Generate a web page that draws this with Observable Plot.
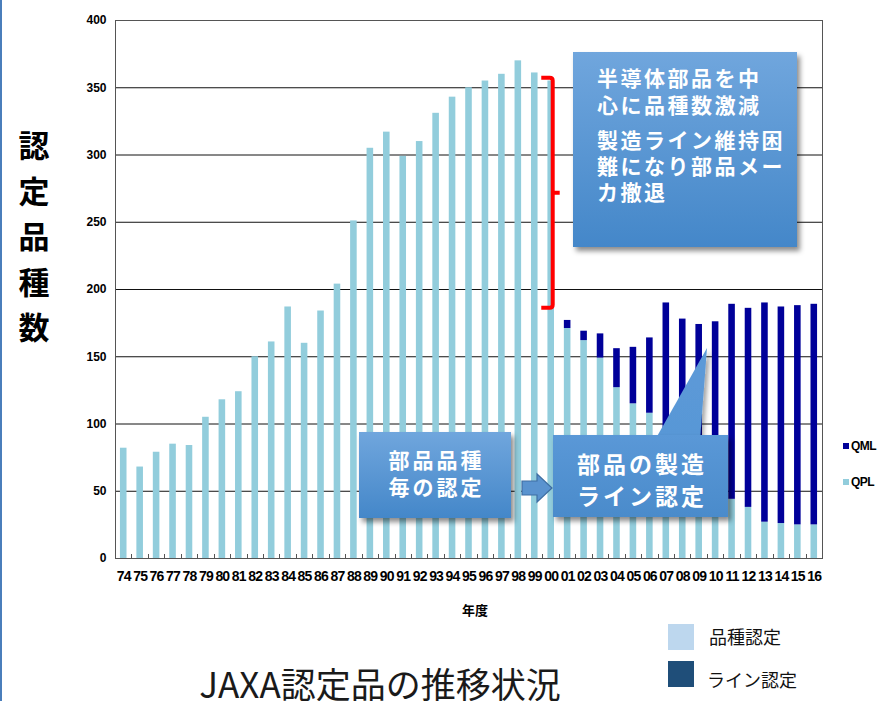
<!DOCTYPE html>
<html>
<head>
<meta charset="utf-8">
<script src="https://cdn.jsdelivr.net/npm/d3@7"></script>
<script src="https://cdn.jsdelivr.net/npm/@observablehq/plot@0.6"></script>
<style>
  html, body { margin: 0; padding: 0; background: #fff; }
  #wrap { position: relative; width: 879px; height: 701px; overflow: hidden; background: #fff; }
  #edge { position: absolute; left: 0; top: 0; width: 2px; height: 701px; background: #4a7ebb; }
  #chart { position: absolute; left: 0; top: 0; }
  #chart svg text { font-family: "Liberation Sans", Arial, sans-serif; font-weight: bold; fill: #000; }
  .ytitle { position: absolute; left: 16px; top: 121px; width: 36px; font-family: "Noto Sans CJK JP", sans-serif;
    font-weight: bold; font-size: 31px; line-height: 45.5px; text-align: center; color: #000; }
  .xtitle { position: absolute; left: 462px; top: 600px; font-family: "Noto Sans CJK JP", sans-serif; font-weight: bold; font-size: 13px; color: #000; }
  .leg { position: absolute; font-family: "Liberation Sans", Arial, sans-serif; font-weight: bold; font-size: 12px; letter-spacing: -0.6px; color: #000; }
  .leg span.sw { display: inline-block; width: 6px; height: 6px; margin-right: 2px; vertical-align: 1px; }
  .box { position: absolute; background: linear-gradient(#70a6dd, #4487c9); box-shadow: 3px 4px 5px rgba(0,0,0,0.45);
    color: #fff; font-family: "Noto Sans CJK JP", sans-serif; font-weight: bold; }
  .title { position: absolute; left: 0; width: 760px; top: 661px; text-align: center; font-family: "Noto Sans CJK JP", sans-serif; font-size: 35px; line-height: 44px; color: #1a1a1a; }
  .bl { position: absolute; font-family: "Noto Sans CJK JP", sans-serif; font-size: 18px; color: #111; }
  .bsw { position: absolute; width: 26px; height: 26px; }
</style>
</head>
<body>
<div id="wrap">
  <div id="edge"></div>
  <div id="chart"></div>
</div>
<script>
// ---- data ----
const years = ["74","75","76","77","78","79","80","81","82","83","84","85","86","87","88","89","90","91","92","93","94","95","96","97","98","99",
               "00","01","02","03","04","05","06","07","08","09","10","11","12","13","14","15","16"];
const qpl = [82,68,79,85,84,105,118,124,150,161,187,160,184,204,251,305,317,299,310,331,343,350,355,360,370,361,
             355,171,162,149,127,115,108,95,82,70,57,44,38,27,26,25,25];
const qml = [0,0,0,0,0,0,0,0,0,0,0,0,0,0,0,0,0,0,0,0,0,0,0,0,0,0,
             0,6,7,18,29,42,56,95,96,104,119,145,148,163,161,163,164];
const seriesNames = ["QPL","QML"];
const seriesColors = ["#92cddc","#000099"];
const yTicks = [0,50,100,150,200,250,300,350,400];
const bracketRange = [357, 186]; // span of the decline annotation (values)

const rows = [];
years.forEach((y,i) => rows.push({year: y, series: "QPL", value: qpl[i]}));
years.forEach((y,i) => rows.push({year: y, series: "QML", value: qml[i]}));

const W = 879, H = 630, mL = 115, mR = 57, mT = 20, mB = 72;

const chart = Plot.plot({
  width: W, height: H,
  marginLeft: mL, marginRight: mR, marginTop: mT, marginBottom: mB,
  x: {domain: years, paddingInner: 0.6, paddingOuter: 0.3, round: false, label: null, tickSize: 0, tickPadding: 13},
  y: {domain: [0,400], ticks: yTicks, label: null, tickSize: 0, tickPadding: 9},
  color: {domain: seriesNames, range: seriesColors},
  style: {fontSize: "12px", background: "transparent", overflow: "visible"},
  marks: [
    Plot.ruleY(yTicks, {stroke: "#111", strokeWidth: 1}),
    Plot.barY(rows, {x: "year", y: "value", fill: "series"}),
    Plot.frame({stroke: "#555", strokeWidth: 1})
  ]
});
document.getElementById("chart").appendChild(chart);

// font sizes for tick labels
d3.select(chart).selectAll('[aria-label="x-axis tick label"] text, g[aria-label="x-axis"] text')
  .style("font-size", "14px").style("letter-spacing", "-0.8px");
d3.select(chart).selectAll('[aria-label="y-axis tick label"] text, g[aria-label="y-axis"] text')
  .style("font-size", "12px");

// scales from the plot
const sx = chart.scale("x"), sy = chart.scale("y");
const xs = d3.scaleBand().domain(sx.domain).range(sx.range).paddingInner(sx.paddingInner ?? 0.6).paddingOuter(sx.paddingOuter ?? 0.3).align(sx.align ?? 0.5);
const ys = d3.scaleLinear().domain(sy.domain).range(sy.range);
const step = xs.step();
const svg = d3.select(chart);

// small category-boundary ticks on the x axis
const g = svg.append("g");
years.slice(1).forEach(y => {
  const x = Math.round(xs(y) + xs.bandwidth()/2 - step/2) + 0.5;
  g.append("line").attr("x1", x).attr("x2", x).attr("y1", ys(0)).attr("y2", ys(0) - 4).attr("stroke", "#555");
});

// red bracket between 99 and 00
const bx = xs("00") + xs.bandwidth()/2 + 2;
const bl = xs("99") + xs.bandwidth()/2 + 7;
const yt = ys(bracketRange[0]), yb = ys(bracketRange[1]), ym = (yt + yb)/2;
svg.append("path")
  .attr("d", `M${bl},${yt} L${bx-3},${yt} Q${bx},${yt} ${bx},${yt+3} L${bx},${yb-3} Q${bx},${yb} ${bx-3},${yb} L${bl},${yb} M${bx},${ym} L${bx+7},${ym}`)
  .attr("fill", "none").attr("stroke", "#ff0000").attr("stroke-width", 4).attr("stroke-linejoin", "round");

// ---- HTML overlays ----
const wrap = document.getElementById("wrap");
function add(html) { wrap.insertAdjacentHTML("beforeend", html); }

add(`<div class="ytitle">認<br>定<br>品<br>種<br>数</div>`);
add(`<div class="xtitle">年度</div>`);
add(`<div class="leg" style="left:843px;top:439px;"><span class="sw" style="background:${seriesColors[1]}"></span>QML</div>`);
add(`<div class="leg" style="left:843px;top:475px;"><span class="sw" style="background:${seriesColors[0]}"></span>QPL</div>`);

// callout 1
add(`<div class="box" style="left:573px;top:52px;width:224px;height:195px;font-size:21px;letter-spacing:2.5px;">
  <div style="position:absolute;left:24px;top:12px;line-height:27px;">半導体部品を中<br>心に品種数激減</div>
  <div style="position:absolute;left:24px;top:74px;line-height:26px;">製造ライン維持困<br>難になり部品メー<br>カ撤退</div>
</div>`);

// callout 2
add(`<div class="box" style="left:359px;top:432px;width:152px;height:86px;font-size:21px;letter-spacing:3px;text-align:center;">
  <div style="position:absolute;left:0;width:155px;top:14px;line-height:27px;">部品品種<br>毎の認定</div>
</div>`);

// callout 3 with tail
add(`<svg style="position:absolute;left:0;top:0;overflow:visible" width="879" height="701">
  <defs><linearGradient id="tg" x1="0" y1="0" x2="0" y2="1"><stop offset="0" stop-color="#5d9ad8"/><stop offset="1" stop-color="#5897d6"/></linearGradient>
  <filter id="sh" x="-20%" y="-20%" width="140%" height="140%"><feDropShadow dx="3" dy="3" stdDeviation="2" flood-color="#000" flood-opacity="0.35"/></filter></defs>
  <path d="M522,481 L537,481 L537,474 L552,488 L537,502 L537,495 L522,495 Z" fill="#5a93cf" stroke="#3e6fa3" stroke-width="1.2"/>
  <path d="M655,440 L707,348 L700,440 Z" fill="url(#tg)" filter="url(#sh)"/>
</svg>`);
add(`<div class="box" style="left:553px;top:435px;width:175px;height:82px;font-size:23px;letter-spacing:3px;text-align:center;background:linear-gradient(#5a98d7,#4a8bcb);">
  <div style="position:absolute;left:0;width:178px;top:12px;line-height:32px;">部品の製造<br>ライン認定</div>
</div>`);

// bottom title and legend
add(`<div class="title">JAXA認定品の推移状況</div>`);
add(`<div class="bsw" style="left:668px;top:624px;background:#bdd7ee;"></div>`);
add(`<div class="bl" style="left:709px;top:623px;">品種認定</div>`);
add(`<div class="bsw" style="left:668px;top:661px;background:#1f4e79;"></div>`);
add(`<div class="bl" style="left:707px;top:666px;">ライン認定</div>`);
</script>
</body>
</html>
